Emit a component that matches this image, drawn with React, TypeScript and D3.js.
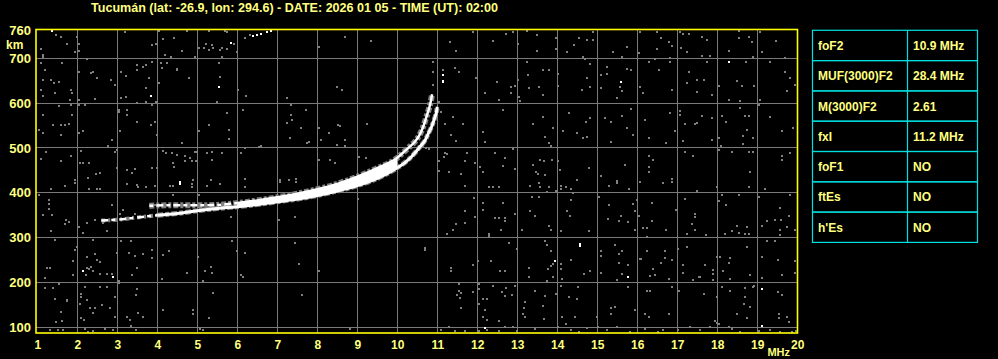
import React from 'react';
import * as d3 from 'd3';

const title = 'Tucumán (lat: -26.9, lon: 294.6) - DATE: 2026 01 05 - TIME (UT): 02:00';
const freqTicks = [1, 2, 3, 4, 5, 6, 7, 8, 9, 10, 11, 12, 13, 14, 15, 16, 17, 18, 19, 20];
const heightTicks = [100, 200, 300, 400, 500, 600, 700];
const topHeightLabel = 760;

const tableParams = ['foF2', 'MUF(3000)F2', 'M(3000)F2', 'fxI', 'foF1', 'ftEs', "h'Es"];
const tableValues = ['10.9 MHz', '28.4 MHz', '2.61', '11.2 MHz', 'NO', 'NO', 'NO'];

// Upper branch (O-like) of the F2 trace
const upperFreq = [3.8, 4.2, 4.6, 5.0, 5.5, 6.0, 6.5, 7.0, 7.5, 8.0, 8.5, 9.0, 9.5, 10.0, 10.15, 10.3, 10.44, 10.55, 10.65, 10.73, 10.8, 10.84, 10.87];
const upperHeight = [371, 372, 372, 372, 373, 377, 383, 390, 398, 408, 420, 436, 455, 478, 490, 502, 514, 528, 548, 570, 590, 605, 620];
// Lower branch (X-like) of the F2 trace
const lowerFreq = [2.6, 3.0, 3.5, 4.0, 4.5, 5.0, 5.5, 6.0, 6.5, 7.0, 7.5, 8.0, 8.5, 9.0, 9.5, 10.0, 10.2, 10.36, 10.57, 10.7, 10.78, 10.86, 10.92, 10.98, 11.0];
const lowerHeight = [338, 340, 345, 350, 354, 360, 365, 369, 374, 380, 386, 394, 404, 416, 432, 456, 468, 481, 503, 518, 533, 548, 563, 581, 592];
// Frequencies where the two branches merge into a solid band
const bandFreq = [6.0, 6.5, 7.0, 7.5, 8.0, 8.5, 9.0, 9.5, 10.0];

// Scattered echoes / noise [MHz, km]
const noiseGray: [number, number][] = [
  [1.48, 752], [1.59, 748], [1.08, 721], [1.13, 704], [1.15, 707], [1.73, 733], [1.94, 715], [2.04, 716], [2.03, 731], [1.98, 748],
  [3.19, 758], [3.97, 733], [3.86, 730], [4.03, 761], [4.13, 743], [4.43, 745], [4.73, 761], [4.63, 716], [4.94, 703], [5.04, 722],
  [5.17, 723], [5.21, 731], [5.29, 718], [5.36, 729], [5.4, 723], [5.57, 718], [5.63, 722], [5.73, 720], [5.92, 731], [6.0, 715],
  [5.3, 761], [5.69, 761], [5.75, 758], [6.19, 745], [6.32, 752], [8.69, 748], [9.33, 739], [8.04, 726], [4.19, 707], [4.33, 704], [5.63, 704],
  [1.08, 689], [1.19, 674], [1.15, 652], [1.33, 652], [1.42, 644], [1.54, 648], [1.63, 689], [1.83, 629], [1.86, 622], [2.04, 670],
  [2.23, 699], [2.33, 667], [2.4, 670], [2.48, 656], [2.84, 652], [2.94, 641], [3.09, 670], [3.22, 661], [3.5, 684], [3.5, 674],
  [3.65, 681], [3.73, 684], [3.79, 657], [3.71, 633], [3.86, 691], [4.08, 689], [4.11, 678], [4.48, 675], [4.79, 657], [5.54, 689],
  [5.57, 659], [5.48, 603], [6.03, 629], [6.22, 617], [7.23, 612], [8.48, 635], [8.61, 629], [1.08, 629], [1.13, 615], [1.44, 622],
  [1.82, 607], [2.04, 607], [1.83, 596], [2.03, 596], [2.2, 596], [2.43, 609], [3.09, 611], [3.22, 614], [3.48, 601], [3.73, 603],
  [3.88, 596], [3.97, 603], [4.05, 644], [4.25, 689], [4.48, 677],
  [1.15, 574], [1.03, 540], [1.13, 533], [1.4, 551], [1.53, 594], [1.58, 551], [1.68, 551], [1.78, 554], [1.86, 574], [1.59, 529],
  [2.04, 533], [2.13, 537], [3.03, 585], [3.05, 580], [3.23, 585], [3.23, 574], [3.48, 559], [3.83, 551], [3.94, 559], [3.07, 537],
  [2.78, 505], [2.88, 518], [2.94, 492], [3.98, 529], [4.63, 510], [5.04, 537], [5.28, 551], [5.78, 540], [5.79, 521], [5.73, 577],
  [6.13, 585], [6.19, 500], [6.53, 502], [6.58, 505], [7.33, 596], [7.33, 574], [7.36, 562], [7.23, 555], [7.32, 523], [7.72, 585],
  [7.59, 545], [7.73, 510], [7.8, 514], [8.04, 545], [8.08, 518], [8.3, 533], [8.48, 507], [8.51, 551], [8.57, 548], [9.23, 553],
  [8.69, 518], [8.69, 505],
  [1.21, 491], [1.08, 476], [1.83, 481], [1.58, 472], [2.09, 493], [2.07, 467], [2.13, 467], [2.29, 467], [2.46, 443], [2.57, 445],
  [1.94, 429], [2.28, 433], [2.98, 496], [3.0, 455], [3.23, 451], [3.44, 453], [3.36, 444], [3.86, 455], [3.98, 456], [4.15, 493],
  [4.21, 488], [4.36, 488], [4.4, 466], [4.43, 458], [4.48, 484], [4.69, 481], [4.69, 470], [4.82, 477], [4.86, 470], [4.94, 492],
  [4.98, 492], [4.97, 472], [5.23, 488], [5.36, 490], [5.38, 473], [5.63, 488], [6.08, 488], [8.04, 473], [8.32, 473], [8.44, 466],
  [9.03, 479], [9.22, 477], [6.19, 431], [7.07, 429], [7.3, 429], [7.47, 431], [5.33, 429], [4.9, 429],
  [11.32, 736], [11.48, 716], [11.88, 758], [12.38, 739], [12.73, 754], [12.88, 758], [13.03, 733], [13.23, 761], [13.48, 752], [13.48, 716],
  [13.98, 745], [13.98, 721], [14.23, 713], [14.43, 730], [14.55, 746], [14.73, 741], [14.88, 758], [14.88, 741], [15.38, 715], [15.63, 704],
  [15.73, 726], [16.07, 759], [16.05, 711], [16.48, 758], [16.58, 745], [16.48, 721], [16.8, 737], [16.88, 728], [17.08, 759], [17.15, 754],
  [17.28, 754], [17.23, 715], [17.1, 722], [17.63, 748], [17.73, 741], [17.63, 706], [18.3, 716], [18.53, 761], [18.55, 745], [18.78, 748],
  [18.86, 737], [19.08, 758], [19.48, 739], [19.11, 713], [19.69, 701], [18.9, 704], [14.63, 704], [14.69, 699],
  [10.9, 692], [10.9, 670], [10.88, 640], [11.13, 674], [11.44, 679], [11.55, 670], [11.98, 657], [12.19, 622], [12.5, 648], [12.55, 607],
  [12.84, 635], [12.94, 639], [12.84, 622], [13.03, 652], [13.23, 692], [13.27, 663], [13.05, 614], [13.3, 633], [13.53, 635], [13.65, 674],
  [13.79, 674], [13.65, 618], [13.07, 605], [14.03, 664], [14.03, 639], [14.61, 629], [14.73, 655], [14.83, 687], [14.83, 635], [15.09, 663],
  [15.09, 633], [15.25, 681], [15.25, 664], [15.57, 635], [15.63, 626], [15.5, 611], [15.73, 677], [15.83, 674], [16.08, 637], [16.13, 622],
  [16.28, 692], [16.44, 699], [16.53, 674], [16.86, 629], [16.83, 692], [17.3, 670], [17.25, 646], [17.48, 651], [17.48, 625], [17.68, 651],
  [17.73, 692], [17.88, 618], [18.04, 639], [18.49, 649], [18.61, 639], [18.72, 692], [18.92, 639], [19.33, 692], [19.69, 670], [19.83, 657],
  [19.73, 626], [19.94, 640], [18.28, 607], [18.58, 605], [19.08, 607], [17.82, 706], [16.82, 701],
  [11.05, 602], [11.19, 553], [11.38, 568], [11.63, 554], [11.33, 529], [11.48, 516], [12.13, 535], [12.19, 514], [12.63, 585], [13.4, 553],
  [13.65, 570], [13.88, 545], [13.69, 525], [13.83, 505], [13.8, 510], [14.15, 537], [14.28, 577], [14.48, 533], [14.63, 523], [14.72, 559],
  [14.83, 566], [14.73, 525], [15.2, 566], [15.33, 559], [15.33, 514], [15.63, 572], [15.73, 545], [15.83, 588], [15.9, 529], [16.19, 562],
  [16.28, 523], [16.73, 510], [16.82, 577], [16.94, 537], [17.07, 574], [17.2, 553], [17.45, 553], [17.49, 555], [17.07, 583], [17.13, 515],
  [17.63, 572], [17.88, 566], [17.88, 518], [18.05, 523], [18.13, 572], [18.23, 559], [18.69, 572], [18.78, 572], [18.73, 540], [18.63, 527],
  [18.9, 523], [18.63, 508], [19.33, 570], [19.61, 537], [19.9, 545], [19.03, 596], [18.58, 590], [18.09, 505], [11.08, 580],
  [11.19, 488], [11.23, 486], [11.05, 470], [11.05, 449], [11.3, 447], [11.58, 441], [11.69, 470], [11.73, 488], [11.94, 466], [12.07, 458],
  [12.13, 447], [12.44, 488], [12.69, 478], [12.65, 460], [12.9, 498], [12.94, 453], [13.38, 463], [13.47, 447], [13.57, 473], [13.67, 471],
  [13.52, 441], [13.68, 440], [13.86, 473], [14.03, 470], [14.07, 451], [14.48, 429], [14.8, 455], [15.08, 438], [15.48, 426], [15.69, 463],
  [16.07, 425], [16.3, 481], [16.3, 458], [16.3, 447], [16.4, 473], [16.88, 431], [17.2, 492], [17.4, 483], [18.05, 496], [18.38, 492],
  [18.8, 492], [18.9, 492], [18.83, 447], [19.63, 483], [19.63, 473], [19.83, 488],
  [10.65, 505], [10.72, 500], [10.8, 497], [10.7, 511], [11.18, 480],
  [1.33, 409], [1.69, 416], [1.94, 422], [2.3, 409], [2.48, 409], [2.57, 409], [3.23, 419], [3.48, 417], [3.53, 414], [3.73, 414],
  [3.94, 416], [4.32, 416], [4.4, 416], [4.86, 420], [4.86, 414], [5.23, 416], [5.57, 419], [6.19, 414], [7.07, 424], [7.47, 424],
  [1.05, 396], [1.3, 384], [1.3, 375],
  [1.3, 364], [1.38, 350], [1.13, 350], [1.72, 340], [1.78, 335], [1.69, 331], [2.03, 323], [2.23, 332], [2.15, 310], [2.44, 340],
  [2.63, 332], [2.73, 315], [2.88, 372], [3.07, 353], [3.15, 361], [3.44, 353], [3.65, 346], [3.94, 372], [4.05, 372], [4.38, 394],
  [4.61, 368], [5.05, 394], [5.83, 346], [7.03, 340], [7.44, 346], [9.01, 387], [1.33, 315],
  [1.44, 295], [1.94, 272], [1.98, 279], [1.88, 248], [2.23, 257], [2.25, 233], [2.44, 264], [2.48, 249], [2.38, 294], [2.57, 246],
  [2.29, 231], [2.33, 235], [2.4, 226], [1.88, 216], [2.22, 216], [2.57, 218], [2.73, 218], [2.98, 266], [2.88, 218], [3.08, 292],
  [3.3, 266], [3.44, 258], [3.48, 233], [3.63, 264], [3.86, 255], [3.86, 273], [3.38, 216], [3.33, 292], [4.13, 262], [4.28, 270],
  [4.11, 208], [4.73, 221], [5.03, 257], [5.19, 226], [5.33, 235], [5.36, 221], [5.15, 203], [5.88, 292], [5.98, 270], [6.19, 266],
  [6.08, 216], [6.13, 212], [7.44, 288], [7.53, 242], [8.04, 226], [1.32, 233], [1.23, 233], [1.19, 211], [3.03, 203], [3.05, 199],
  [1.19, 188], [1.4, 188], [1.55, 196], [1.44, 164], [1.73, 161], [1.73, 158], [2.08, 175], [2.1, 168], [2.07, 153], [2.19, 191],
  [2.23, 160], [2.32, 142], [2.44, 144], [2.38, 131], [2.57, 190], [2.61, 149], [2.73, 191], [2.82, 144], [2.94, 168], [2.94, 123],
  [3.5, 186], [3.47, 171], [3.23, 124], [3.32, 117], [3.53, 131], [3.63, 124], [3.33, 102], [4.13, 139], [4.88, 138], [4.88, 129],
  [5.28, 121], [5.4, 176], [7.63, 171], [1.48, 112], [1.61, 115], [1.58, 134], [1.32, 95], [1.52, 93], [2.19, 97], [2.28, 90],
  [2.38, 92], [2.69, 97], [2.9, 95], [3.47, 95], [5.07, 97], [5.15, 93], [8.82, 97], [1.64, 95], [2.1, 120], [2.17, 116],
  [11.69, 416], [12.3, 413], [12.4, 414], [12.55, 413], [13.33, 416], [13.55, 422], [13.58, 413], [13.73, 401], [13.8, 413], [13.98, 405],
  [14.08, 416], [14.08, 409], [14.22, 414], [14.33, 409], [15.3, 416], [15.5, 422], [15.8, 409], [16.65, 422], [16.88, 425], [17.98, 413],
  [18.8, 413], [19.19, 409],
  [11.92, 389], [11.69, 359], [11.48, 331], [11.38, 318], [11.25, 307], [11.69, 332], [12.13, 377], [12.13, 361], [11.94, 346], [12.44, 344],
  [12.55, 344], [12.69, 344], [12.69, 337], [12.63, 377], [12.94, 353], [12.59, 318], [12.3, 307], [12.3, 303], [13.11, 318], [13.33, 359],
  [13.44, 349], [13.36, 390], [13.55, 390], [13.8, 327], [13.84, 318], [14.08, 315], [14.23, 359], [14.32, 349], [14.33, 384], [14.38, 399],
  [14.79, 315], [15.04, 390], [15.29, 372], [15.28, 342], [15.58, 349], [15.53, 338], [15.78, 335], [15.88, 374], [15.98, 383], [15.94, 359],
  [16.03, 349], [15.94, 316], [16.13, 322], [16.25, 322], [16.23, 301], [16.38, 377], [16.38, 337], [16.73, 318], [16.97, 362], [17.19, 387],
  [17.44, 353], [17.44, 347], [17.36, 331], [17.44, 316], [17.25, 307], [17.48, 404], [17.72, 305], [18.13, 394], [18.05, 381], [18.23, 372],
  [18.18, 309], [18.38, 315], [18.5, 327], [18.55, 310], [18.73, 323], [18.8, 309], [18.69, 307], [19.05, 390], [19.13, 327], [19.23, 338],
  [19.43, 339], [19.56, 367], [19.6, 339], [19.58, 316], [19.58, 305], [19.73, 323], [19.78, 349], [19.94, 318], [19.83, 394], [18.55, 394],
  [10.69, 277], [10.69, 273], [11.33, 233], [11.33, 226], [11.88, 238], [12.03, 248], [12.33, 248], [12.58, 226], [12.69, 226], [12.8, 288],
  [12.98, 275], [13.28, 233], [13.3, 212], [13.69, 292], [13.73, 283], [13.83, 270], [13.88, 241], [13.83, 237], [13.76, 231], [13.73, 203],
  [13.88, 212], [14.09, 241], [14.09, 231], [14.33, 249], [14.13, 208], [14.68, 218], [14.83, 226], [15.08, 271], [15.08, 260], [15.09, 221],
  [15.44, 283], [15.54, 264], [15.63, 270], [15.54, 243], [15.78, 240], [15.63, 218], [15.5, 206], [16.07, 253], [16.1, 253], [16.23, 270],
  [16.4, 231], [16.44, 216], [16.58, 243], [16.69, 271], [16.69, 255], [16.8, 208], [16.33, 215], [16.88, 250], [17.02, 275], [17.13, 238],
  [17.23, 279], [17.15, 221], [17.38, 206], [17.55, 212], [17.58, 212], [17.69, 238], [17.9, 227], [17.9, 218], [17.9, 206], [17.98, 257],
  [18.08, 257], [18.15, 226], [18.3, 243], [18.33, 208], [18.32, 255], [18.73, 279], [18.83, 216], [19.13, 209], [19.23, 292], [19.43, 292],
  [19.13, 257], [19.52, 251], [19.62, 216], [19.94, 248], [19.94, 221],
  [11.53, 196], [11.55, 182], [11.58, 176], [11.5, 171], [11.57, 166], [11.58, 144], [11.88, 179], [12.05, 196], [12.05, 186], [12.13, 164],
  [12.25, 164], [12.05, 151], [12.19, 138], [12.13, 123], [12.25, 117], [12.55, 114], [12.38, 193], [12.61, 179], [12.69, 169], [12.73, 188],
  [12.86, 171], [12.94, 193], [13.19, 156], [13.17, 142], [13.13, 130], [13.19, 124], [13.44, 181], [13.65, 147], [13.69, 169], [13.67, 119],
  [13.98, 175], [14.08, 193], [14.13, 123], [14.22, 107], [14.3, 168], [14.48, 164], [14.53, 190], [14.44, 123], [14.98, 123], [15.33, 142],
  [15.44, 145], [15.33, 129], [15.78, 190], [15.94, 138], [16.23, 181], [16.33, 181], [16.19, 129], [16.3, 124], [16.8, 129], [16.88, 190],
  [17.05, 181], [17.67, 175], [17.94, 114], [18.0, 109], [17.98, 168], [18.13, 190], [18.32, 182], [18.69, 188], [18.88, 191], [18.93, 193],
  [18.69, 168], [18.67, 151], [18.83, 145], [18.5, 129], [18.73, 120], [19.52, 179], [19.63, 171], [19.53, 129], [19.73, 124], [19.53, 120],
  [19.78, 111],
  [11.08, 93], [11.3, 100], [11.44, 92], [11.69, 92], [12.05, 92], [12.25, 93], [12.55, 92], [12.69, 101], [12.88, 101], [12.98, 92],
  [13.44, 97], [14.03, 101], [14.33, 93], [14.55, 89], [14.75, 99], [15.03, 101], [15.25, 95], [15.48, 101], [15.82, 89], [16.19, 97],
  [16.52, 89], [16.65, 95], [17.02, 93], [17.32, 101], [17.57, 95], [17.83, 101], [18.05, 107], [18.28, 101], [18.38, 97], [18.58, 89],
  [19.03, 92], [19.33, 95], [19.58, 89], [19.88, 89], [19.97, 92],
];
const noiseWhite: [number, number][] = [
  [1.38, 761], [3.84, 617], [5.53, 635], [5.83, 735], [6.4, 750], [6.48, 753], [6.59, 755], [6.73, 759], [6.83, 761],
  [15.58, 648], [18.29, 692], [11.13, 663], [11.13, 650], [11.13, 648], [2.13, 226], [2.9, 212], [4.57, 420], [4.57, 425],
  [14.58, 286], [14.58, 282], [13.94, 248], [15.78, 212], [19.13, 186], [19.13, 102], [12.19, 99],
];

const TEXT = '#ffff80';
const FRAME = '#ffff00';
const GRID = '#7a7a7a';
const NOISE = '#808080';
const TABLE = '#00e0e0';
const FONT = '"Liberation Sans", Arial, sans-serif';

export default function App() {
  const W = 998;
  const H = 359;
  const x = d3.scaleLinear().domain([1, 20]).range([37.3, 797.3]);
  const y = d3.scaleLinear().domain([100, 700]).range([327.3, 58.3]);

  const frame = { left: 36, top: 30, right: 797.5, bottom: 333 };

  const line = d3
    .line<[number, number]>()
    .x((d) => x(d[0]))
    .y((d) => y(d[1]))
    .curve(d3.curveMonotoneX);

  const upper: [number, number][] = upperFreq.map((f, i) => [f, upperHeight[i]]);
  const lower: [number, number][] = lowerFreq.map((f, i) => [f, lowerHeight[i]]);
  const upperLow = upper.filter((d) => d[0] <= 6.0);
  const upperHigh = upper.filter((d) => d[0] >= 6.0);
  const lowerLow = lower.filter((d) => d[0] <= 4.0);
  const lowerHigh = lower.filter((d) => d[0] >= 4.0);

  const band = bandFreq.map((f) => ({
    f,
    top: upperHeight[upperFreq.indexOf(f)],
    bot: lowerHeight[lowerFreq.indexOf(f)],
  }));
  const area = d3
    .area<{ f: number; top: number; bot: number }>()
    .x((d) => x(d.f))
    .y0((d) => y(d.bot))
    .y1((d) => y(d.top))
    .curve(d3.curveMonotoneX);

  const rowTop = 30.3;
  const rowH = 30.3;
  const tLeft = 812.5;
  const tMid = 907.5;
  const tRight = 977.5;

  return (
    <svg
      width={W}
      height={H}
      style={{ position: 'absolute', left: 0, top: 0, display: 'block' }}
      fontFamily={FONT}
      fontWeight="bold"
    >
      <rect x={0} y={0} width={W} height={H} fill="#000" />

      {/* grid */}
      <g stroke={GRID} strokeWidth={1} shapeRendering="crispEdges">
        {freqTicks.slice(1, -1).map((f) => (
          <line key={'v' + f} x1={x(f)} x2={x(f)} y1={frame.top} y2={frame.bottom} />
        ))}
        {heightTicks.map((h) => (
          <line key={'h' + h} x1={frame.left} x2={frame.right} y1={y(h)} y2={y(h)} />
        ))}
      </g>

      {/* noise */}
      <g fill={NOISE} shapeRendering="crispEdges">
        {noiseGray.map((d, i) => (
          <rect key={i} x={Math.round(x(d[0]) - 1)} y={Math.round(y(d[1]) - 1)} width={2} height={2} />
        ))}
      </g>

      {/* trace halo */}
      <g fill="none" stroke={NOISE} strokeLinecap="butt">
        <path d={line(upper) || ''} strokeWidth={6} strokeDasharray="5 2 3 2" />
        <path d={line(lowerHigh) || ''} strokeWidth={5} strokeDasharray="6 2 4 2" />
        <path d={line(lowerLow) || ''} strokeWidth={4} strokeDasharray="4 3 2 3" />
      </g>
      {/* trace */}
      <path d={area(band) || ''} fill="#fff" />
      <g fill="none" stroke="#fff">
        <path d={line(upperLow) || ''} strokeWidth={2.5} strokeDasharray="4 3 7 3" />
        <path d={line(upperHigh) || ''} strokeWidth={2.5} />
        <path d={line(lowerLow) || ''} strokeWidth={2.5} strokeDasharray="7 3 4 4" />
        <path d={line(lowerHigh) || ''} strokeWidth={3} />
      </g>

      <g fill="#fff" shapeRendering="crispEdges">
        {noiseWhite.map((d, i) => (
          <rect key={i} x={Math.round(x(d[0]) - 1)} y={Math.round(y(d[1]) - 1)} width={2} height={2} />
        ))}
      </g>

      {/* mask outside the frame */}
      <rect x={0} y={frame.bottom + 1} width={W} height={H - frame.bottom} fill="#000" />
      <rect x={0} y={0} width={frame.left - 1} height={H} fill="#000" />
      <rect x={frame.right + 1} y={0} width={W - frame.right} height={H} fill="#000" />
      <rect x={0} y={0} width={W} height={frame.top - 1} fill="#000" />

      {/* title */}
      <text x={91} y={11.5} fontSize={12} fill={TEXT} textLength={407} lengthAdjust="spacingAndGlyphs">
        {title}
      </text>

      <rect
        x={frame.left}
        y={frame.top - 0.5}
        width={frame.right - frame.left}
        height={frame.bottom - frame.top + 0.5}
        fill="none"
        stroke={FRAME}
        strokeWidth={1.6}
      />

      {/* y labels */}
      <g fill={TEXT} fontSize={13} textAnchor="end">
        {heightTicks.map((h) => (
          <text key={h} x={31} y={y(h)} dy="0.36em">
            {h}
          </text>
        ))}
        <text x={31} y={y(topHeightLabel) - 1} dy="0.36em">
          {topHeightLabel}
        </text>
      </g>
      <text x={6} y={49} fontSize={12} fill={TEXT}>
        km
      </text>

      {/* x labels */}
      <g fill={TEXT} fontSize={12} textAnchor="middle">
        {freqTicks.map((f) => (
          <text key={f} x={x(f) + 0.5} y={349}>
            {f}
          </text>
        ))}
      </g>
      <text x={790} y={355.5} fontSize={11} fill={TEXT} textAnchor="end">
        MHz
      </text>

      {/* parameter table */}
      <g>
        {tableParams.map((p, i) => (
          <g key={p}>
            <rect
              x={tLeft}
              y={rowTop + i * rowH}
              width={tRight - tLeft}
              height={rowH}
              fill="none"
              stroke={TABLE}
              strokeWidth={1.2}
            />
            <text x={818} y={rowTop + i * rowH + rowH / 2 + 4.5} fontSize={12} fill={TEXT}>
              {p}
            </text>
            <text x={913} y={rowTop + i * rowH + rowH / 2 + 4.5} fontSize={12} fill={TEXT}>
              {tableValues[i]}
            </text>
          </g>
        ))}
        <line x1={tMid} x2={tMid} y1={rowTop} y2={rowTop + rowH * tableParams.length} stroke={TABLE} strokeWidth={1.2} />
      </g>
    </svg>
  );
}
